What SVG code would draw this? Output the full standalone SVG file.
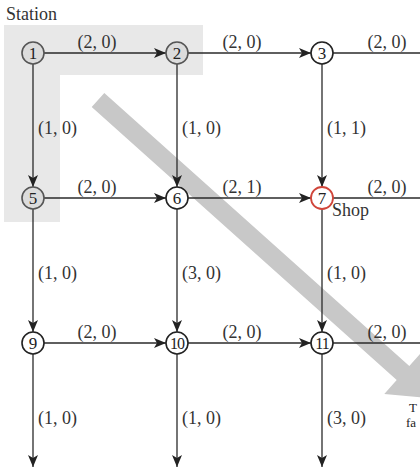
<svg xmlns="http://www.w3.org/2000/svg" width="420" height="468" viewBox="0 0 420 468" font-family="'Liberation Serif','Times New Roman','DejaVu Serif',serif">
<defs>
<style>
text{font-family:'Liberation Serif','Times New Roman','DejaVu Serif',serif}
.lbl{font-size:18px;fill:#333}
.num{font-size:17px;fill:#222;text-anchor:middle}
.num2{font-size:16px;fill:#222;text-anchor:middle;letter-spacing:-1px}
.hl{text-anchor:middle}
.edge{stroke:#2a2a2a;stroke-width:1.3;fill:none}
.arr{marker-end:url(#ah)}
.node{fill:#fff;stroke:#222;stroke-width:1.6}
.gnode{fill:#dcdcdc;stroke:#555;stroke-width:1.6}
.rnode{fill:#fff;stroke:#d0453a;stroke-width:1.8}
.small{font-size:13px;fill:#222}
</style>
<marker id="ah" viewBox="0 0 12 10" refX="12" refY="5" markerWidth="12" markerHeight="10" markerUnits="userSpaceOnUse" orient="auto">
<path d="M0,0 L12,5 L0,10 L3,5 z" fill="#222"/>
</marker>
</defs>
<rect width="420" height="468" fill="#fff"/>
<g id="station-area">
<polygon points="4,25 203,25 203,75 60,75 60,222 4,222" fill="#e8e8e8"/>
<text class="lbl" x="6" y="20" font-size="16">Station</text>
</g>
<g id="direction-arrow">
<polygon points="104.3,92.9 409.3,365.9 421.7,352.1 431.3,398.3 384.3,393.9 396.7,380.1 91.7,107.1" fill="#c8c8c8"/>
<text class="small" x="409" y="412">T</text>
<text class="small" x="406" y="427">fa</text>
</g>
<g id="connectors">
<line class="edge arr" x1="44" y1="53" x2="166" y2="53"/>
<line class="edge arr" x1="188" y1="53" x2="311" y2="53"/>
<line class="edge" x1="333" y1="53" x2="420" y2="53"/>
<line class="edge arr" x1="44" y1="198" x2="166" y2="198"/>
<line class="edge arr" x1="188" y1="198" x2="311" y2="198"/>
<line class="edge" x1="333" y1="198" x2="420" y2="198"/>
<line class="edge arr" x1="44" y1="343" x2="166" y2="343"/>
<line class="edge arr" x1="188" y1="343" x2="311" y2="343"/>
<line class="edge" x1="333" y1="343" x2="420" y2="343"/>
<line class="edge arr" x1="33" y1="64" x2="33" y2="187"/>
<line class="edge arr" x1="177" y1="64" x2="177" y2="187"/>
<line class="edge arr" x1="322" y1="64" x2="322" y2="187"/>
<line class="edge arr" x1="33" y1="209" x2="33" y2="332"/>
<line class="edge arr" x1="177" y1="209" x2="177" y2="332"/>
<line class="edge arr" x1="322" y1="209" x2="322" y2="332"/>
<line class="edge arr" x1="33" y1="354" x2="33" y2="467"/>
<line class="edge arr" x1="177" y1="354" x2="177" y2="467"/>
<line class="edge arr" x1="322" y1="354" x2="322" y2="467"/>
<text class="lbl hl" x="97" y="48">(2, 0)</text>
<text class="lbl hl" x="242" y="48">(2, 0)</text>
<text class="lbl hl" x="387" y="48">(2, 0)</text>
<text class="lbl hl" x="97" y="193">(2, 0)</text>
<text class="lbl hl" x="242" y="193">(2, 1)</text>
<text class="lbl hl" x="387" y="193">(2, 0)</text>
<text class="lbl hl" x="97" y="338">(2, 0)</text>
<text class="lbl hl" x="242" y="338">(2, 0)</text>
<text class="lbl hl" x="387" y="338">(2, 0)</text>
<text class="lbl" x="38" y="134">(1, 0)</text>
<text class="lbl" x="182" y="134">(1, 0)</text>
<text class="lbl" x="327" y="134">(1, 1)</text>
<text class="lbl" x="38" y="279">(1, 0)</text>
<text class="lbl" x="182" y="279">(3, 0)</text>
<text class="lbl" x="327" y="279">(1, 0)</text>
<text class="lbl" x="38" y="424">(1, 0)</text>
<text class="lbl" x="182" y="424">(1, 0)</text>
<text class="lbl" x="327" y="424">(3, 0)</text>
</g>
<g id="n1"><circle class="gnode" cx="33" cy="53" r="11"/><text class="num" x="33" y="59" fill="#444">1</text></g>
<g id="n2"><circle class="gnode" cx="177" cy="53" r="11"/><text class="num" x="177" y="59">2</text></g>
<g id="n3"><circle class="node" cx="322" cy="53" r="11"/><text class="num" x="322" y="59">3</text></g>
<g id="n5"><circle class="gnode" cx="33" cy="198" r="11"/><text class="num" x="33" y="204">5</text></g>
<g id="n6"><circle class="node" cx="177" cy="198" r="11"/><text class="num" x="177" y="204">6</text></g>
<g id="n7"><circle class="rnode" cx="322" cy="198" r="11"/><text class="num" x="322" y="204">7</text><text class="lbl" x="332" y="216" font-size="16">Shop</text></g>
<g id="n9"><circle class="node" cx="33" cy="343" r="11"/><text class="num" x="33" y="349">9</text></g>
<g id="n10"><circle class="node" cx="177" cy="343" r="11"/><text class="num2" x="177" y="349">10</text></g>
<g id="n11"><circle class="node" cx="322" cy="343" r="11"/><text class="num2" x="322" y="349">11</text></g>
</svg>
